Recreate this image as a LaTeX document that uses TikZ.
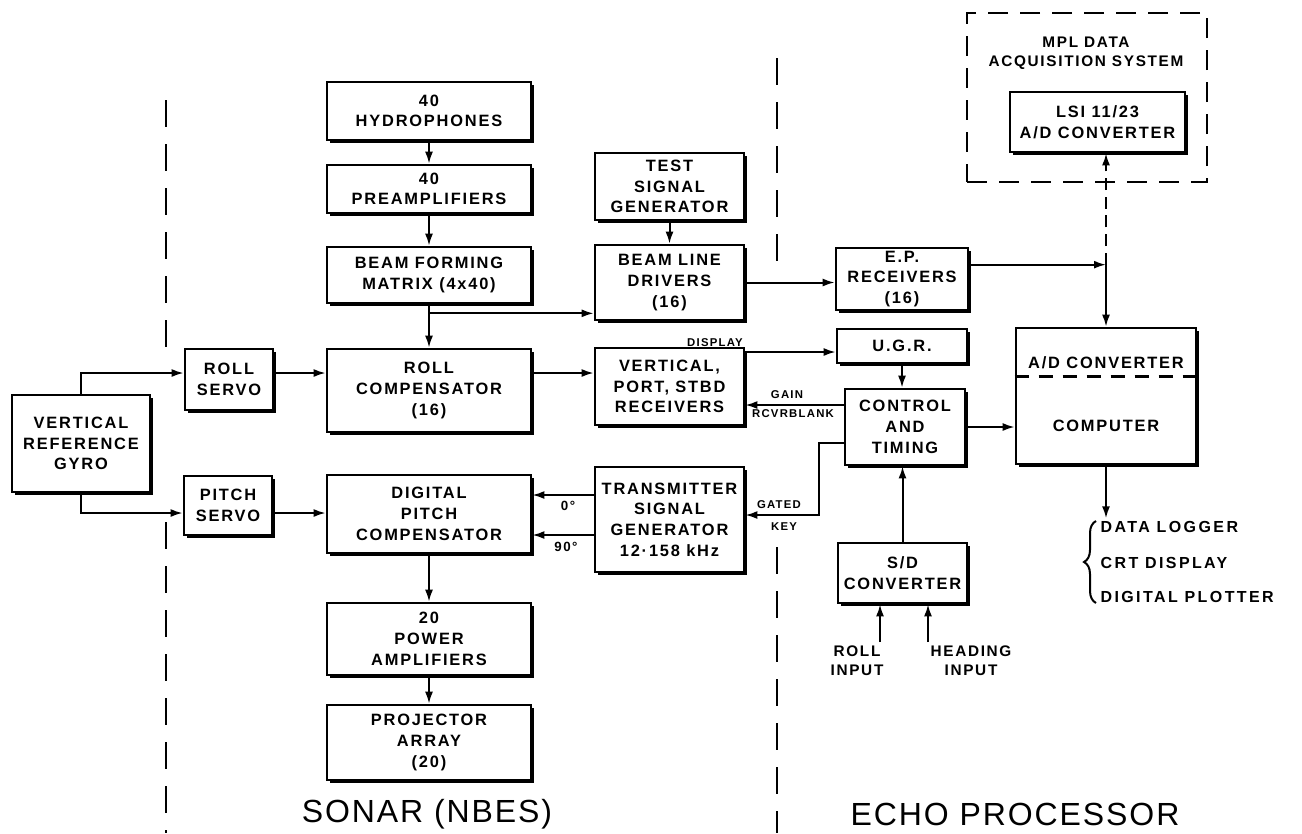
\documentclass[tikz,border=0pt]{standalone}
\usepackage{fontspec}
\setmainfont{Liberation Sans}
\newfontfamily\boxfont[LetterSpace=11]{Liberation Sans}
\newfontfamily\listfont[LetterSpace=15]{Liberation Sans}
\newfontfamily\titlefont[LetterSpace=6]{Liberation Sans}
\usetikzlibrary{arrows.meta,shadows,calc,decorations.pathreplacing}

\begin{document}
\begin{tikzpicture}[x=0.75pt,y=0.75pt,yscale=-1,xscale=1,
  blk/.style={draw, line width=2pt, fill=white, align=center, inner sep=0pt,
    font=\boxfont\bfseries\fontsize{12.3}{15.5}\selectfont,
    drop shadow={shadow xshift=2.4pt, shadow yshift=-2.4pt, opacity=1, fill=black}},
  arr/.style={line width=1.5pt, -{Latex[length=9pt,width=6pt]}},
  tag/.style={font=\boxfont\bfseries\fontsize{8.5}{10}\selectfont, inner sep=1pt},
  lbl/.style={font=\boxfont\bfseries\fontsize{11.5}{14}\selectfont, inner sep=1pt, align=center},
  part/.style={line width=2pt, dash pattern=on 20pt off 13pt},
  title/.style={font=\titlefont\fontsize{24}{28}\selectfont}]
\useasboundingbox (0,0) rectangle (1302,833);

%Section dividers
\draw[part] (166,100) -- (166,362);
\draw[part] (166,522) -- (166,833);
\draw[part] (777,58) -- (777,268);
\draw[part] (777,547) -- (777,833);

%Sonar boxes
\node[blk, minimum width=103.5pt, minimum height=72.75pt] (gyro) at (81,443.5) {VERTICAL\\REFERENCE\\GYRO};
\node[blk, minimum width=66pt, minimum height=45.75pt] (rollservo) at (229,379.5) {ROLL\\SERVO};
\node[blk, minimum width=66pt, minimum height=44.25pt] (pitchservo) at (228,505.5) {PITCH\\SERVO};
\node[blk, minimum width=153pt, minimum height=43.5pt] (hydro) at (429,111) {40\\HYDROPHONES};
\node[blk, minimum width=153pt, minimum height=36pt] (preamp) at (429,189) {40\\PREAMPLIFIERS};
\node[blk, minimum width=153pt, minimum height=42pt] (bfm) at (429,275) {BEAM FORMING\\MATRIX (4x40)};
\node[blk, minimum width=153pt, minimum height=62.25pt] (rollcomp) at (429,390.5) {ROLL\\COMPENSATOR\\(16)};
\node[blk, minimum width=153pt, minimum height=58.5pt] (dpc) at (429,514) {DIGITAL\\PITCH\\COMPENSATOR};
\node[blk, minimum width=153pt, minimum height=54pt] (pa) at (429,639) {20\\POWER\\AMPLIFIERS};
\node[blk, minimum width=153pt, minimum height=56.25pt] (proj) at (429,742.5) {PROJECTOR\\ARRAY\\(20)};
\node[blk, minimum width=111.75pt, minimum height=50.25pt] (testsig) at (669.5,186.5) {TEST\\SIGNAL\\GENERATOR};
\node[blk, minimum width=111.75pt, minimum height=56.25pt] (bld) at (669.5,282.5) {BEAM LINE\\DRIVERS\\(16)};
\node[blk, minimum width=111.75pt, minimum height=57.75pt] (vps) at (669.5,386.5) {VERTICAL,\\PORT, STBD\\RECEIVERS};
\node[blk, minimum width=111.75pt, minimum height=78.75pt] (tsg) at (669.5,519.5) {TRANSMITTER\\SIGNAL\\GENERATOR\\12·158 kHz};

%Echo processor boxes
\node[blk, minimum width=99pt, minimum height=46.5pt] (ep) at (902,279) {E.P.\\RECEIVERS\\(16)};
\node[blk, minimum width=97.5pt, minimum height=25.5pt] (ugr) at (902,346) {U.G.R.};
\node[blk, minimum width=90pt, minimum height=57pt] (ct) at (905,427) {CONTROL\\AND\\TIMING};
\node[blk, minimum width=96.75pt, minimum height=45pt] (sd) at (902.5,573) {S/D\\CONVERTER};
\node[blk, minimum width=135pt, minimum height=102pt] (comp) at (1106,396) {};
\node[lbl, font=\boxfont\bfseries\fontsize{12.3}{15}\selectfont] (adc) at (1106,363) {A/D CONVERTER};
\node[lbl, font=\boxfont\bfseries\fontsize{12.3}{15}\selectfont] (cpu) at (1106,426) {COMPUTER};
\draw[line width=2.2pt, dash pattern=on 11pt off 7pt] ($(comp.north west)+(0,50)$) -- ($(comp.north east)+(0,50)$);

%MPL data acquisition
\node[draw, line width=2pt, dash pattern=on 15pt off 9pt, minimum width=180pt, minimum height=126.75pt] (mpl) at (1087,97.5) {};
\node[lbl] (mpltxt) at (1086,53.5) {MPL DATA\\ACQUISITION SYSTEM};
\node[blk, minimum width=131.25pt, minimum height=45pt] (lsi) at (1097.5,122) {LSI 11/23\\A/D CONVERTER};

%Rows used by the connectors
\coordinate (rowA) at (0,373);
\coordinate (rowB) at (0,513);
\coordinate (rowC) at (0,495);
\coordinate (rowD) at (0,535);
\coordinate (rowE) at (0,352);
\coordinate (rowF) at (0,405);
\coordinate (rowG) at (0,443);
\coordinate (rowH) at (0,515);
\coordinate (jn) at ($(comp.north)+(0,-62)$);

%Sonar connectors
\draw[arr] (gyro.north) |- (rollservo.west |- rowA);
\draw[arr] (gyro.south) |- (pitchservo.west |- rowB);
\draw[arr] (rollservo.east |- rowA) -- (rollcomp.west |- rowA);
\draw[arr] (pitchservo.east |- rowB) -- (dpc.west |- rowB);
\draw[arr] (hydro.south) -- (preamp.north);
\draw[arr] (preamp.south) -- (bfm.north);
\draw[arr] (bfm.south) -- (rollcomp.north);
\draw[arr] (bfm.south) ++(0,9) coordinate (brk) -- (brk -| bld.west);
\draw[arr] (testsig.south) -- (bld.north);
\draw[arr] (rollcomp.east |- rowA) -- (vps.west |- rowA);
\draw[arr] (tsg.west |- rowC) -- (dpc.east |- rowC);
\draw[arr] (tsg.west |- rowD) -- (dpc.east |- rowD);
\draw[arr] (dpc.south) -- (pa.north);
\draw[arr] (pa.south) -- (proj.north);
\node[tag, font=\boxfont\bfseries\fontsize{10}{12}\selectfont] (zero) at (568,506) {0°};
\node[tag, font=\boxfont\bfseries\fontsize{10}{12}\selectfont] (ninety) at (566,547) {90°};

%Echo processor connectors
\draw[arr] (bld.east) -- (bld.east -| ep.west);
\draw[arr] (ep.east |- jn) -- (jn);
\draw[arr] (jn) -- (comp.north);
\draw[arr, dash pattern=on 9pt off 5pt] (jn) -- (lsi.south -| jn);
\draw[arr] (vps.east |- rowE) -- (ugr.west |- rowE);
\node[tag] (disp) at (715,343) {DISPLAY};
\draw[arr] (ugr.south -| ct.north) ++(-3,0) -- ($(ct.north)+(-3,0)$);
\draw[arr] (ct.west |- rowF) -- (vps.east |- rowF);
\node[tag] (gain) at (787,395) {GAIN};
\node[tag] (blank) at (793,414) {RCVRBLANK};
\draw[arr] (ct.west |- rowG) -- ++(-25,0) |- (tsg.east |- rowH);
\node[tag] (gated) at (779,505) {GATED};
\node[tag] (key) at (784,527) {KEY};
\draw[arr] (sd.north) -- (sd.north |- ct.south);
\draw[arr] (ct.east) -- (ct.east -| comp.west);

%Inputs to the S/D converter
\node[lbl] (rollin) at (857,661) {ROLL\\INPUT};
\node[lbl] (headin) at (971,661) {HEADING\\INPUT};
\coordinate (rollpt) at (880,642);
\coordinate (headpt) at (928,642);
\draw[arr] (rollpt) -- (rollpt |- sd.south);
\draw[arr] (headpt) -- (headpt |- sd.south);

%Outputs of the computer
\coordinate (outpt) at ($(comp.south)+(0,53)$);
\draw[arr] (comp.south) -- (outpt);
\draw[line width=1.5pt, decorate, decoration={brace, amplitude=9pt}] (1096,603) -- (1096,521);
\node[lbl, font=\listfont\bfseries\fontsize{12}{14}\selectfont, anchor=west] (logger) at (1099,527) {DATA LOGGER};
\node[lbl, font=\listfont\bfseries\fontsize{12}{14}\selectfont, anchor=west] (crt) at (1099,563) {CRT DISPLAY};
\node[lbl, font=\listfont\bfseries\fontsize{12}{14}\selectfont, anchor=west] (plotter) at (1099,597) {DIGITAL PLOTTER};

%Section titles
\node[title] (sonar) at (427,814) {SONAR (NBES)};
\node[title] (echo) at (1015,814) {ECHO PROCESSOR};
\end{tikzpicture}
\end{document}
